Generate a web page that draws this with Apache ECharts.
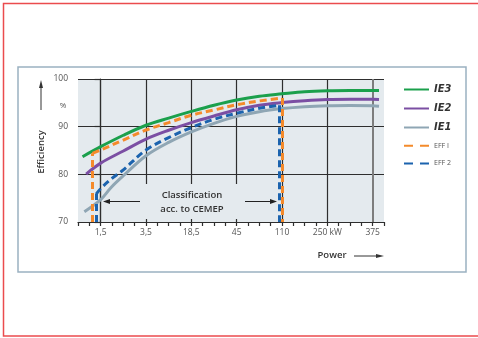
<!DOCTYPE html>
<html>
<head>
<meta charset="utf-8">
<script src="https://cdn.jsdelivr.net/npm/echarts@6/dist/echarts.min.js"></script>
<style>
  html, body { margin: 0; padding: 0; background: #fff; }
  #chart { width: 478px; height: 338px; }
</style>
</head>
<body>
<div id="chart"></div>
<script>
// x is a position index: 0 = 1,5 kW, 1 = 3,5 kW ... 6 = 375 kW (evenly spaced on the sheet)
const xLabels = ['1,5', '3,5', '18,5', '45', '110', '250 kW', '375'];
const yTicks = [70, 80, 90, 100];

const ie3 = [[-0.40, 83.7], [0, 85.8], [0.5, 88.2], [1, 90.3], [1.5, 91.8], [2, 93.2], [2.5, 94.5],
  [3, 95.6], [3.5, 96.4], [4, 96.9], [4.5, 97.35], [5, 97.55], [5.5, 97.6], [6, 97.6], [6.14, 97.6]];
const ie2 = [[-0.32, 80.05], [0, 82.35], [0.5, 84.9], [1, 87.4], [1.5, 89.25], [2, 90.85], [2.5, 92.25],
  [3, 93.55], [3.5, 94.5], [4, 95.05], [4.5, 95.45], [5, 95.7], [5.5, 95.75], [6, 95.75], [6.14, 95.7]];
const ie1 = [[-0.36, 72.15], [0, 74.7], [0.23, 77.25], [0.5, 79.7], [1, 83.9], [1.5, 86.7], [2, 88.9],
  [2.5, 90.7], [3, 92.15], [3.5, 93.15], [4, 93.8], [4.5, 94.2], [5, 94.4], [5.5, 94.45], [6, 94.4], [6.14, 94.3]];
const eff1 = [[-0.18, 84.4], [0, 85.1], [0.5, 87.2], [1, 89.3], [1.5, 90.85], [2, 92.4], [2.5, 93.5],
  [3, 94.6], [3.5, 95.4], [4.0, 96.0]];
const eff2 = [[-0.10, 75.85], [0, 77.0], [0.23, 79.0], [0.5, 80.95], [1, 85.1], [1.5, 87.7], [2, 89.8],
  [2.5, 91.55], [3, 92.8], [3.5, 93.85], [3.94, 94.5]];

const C = {
  ie3: '#1ba04c', ie2: '#7b4fa3', ie1: '#8fa6b4', eff1: '#f48a2b', eff2: '#1b63ae',
  grid: '#2e2e2e', text: '#333', label: '#555', bg: '#e4eaee'
};
const FONT = '"Open Sans", "Noto Sans", sans-serif';

const chart = echarts.init(document.getElementById('chart'), null, { renderer: 'canvas' });

// vertical drops of the EFF curves down to 70 %
function drops(data) {
  const first = data[0], last = data[data.length - 1];
  return [
    [{ coord: [first[0], yTicks[0]] }, { coord: first }],
    [{ coord: last }, { coord: [last[0], yTicks[0]] }]
  ];
}

function curve(name, data, color, dashed) {
  const s = {
    name: name,
    type: 'line',
    data: data,
    smooth: 0.35,
    symbol: 'none',
    z: 3,
    lineStyle: { color: color, width: 3, type: dashed ? [7, 4] : 'solid', cap: 'butt' },
    itemStyle: { color: color }
  };
  if (dashed) {
    s.markLine = {
      silent: true, symbol: ['none', 'none'], label: { show: false }, z: 4,
      lineStyle: { color: color, width: 3, type: [7, 4] },
      emphasis: { disabled: true },
      data: drops(data)
    };
  }
  return s;
}

const option = {
  animation: false,
  grid: {
    left: 78, top: 79, width: 306, height: 143,
    show: true, backgroundColor: C.bg, borderWidth: 0
  },
  xAxis: {
    type: 'value', min: -0.5, max: 6.25, interval: 0.25,
    axisLine: { show: true, onZero: false, lineStyle: { color: C.grid, width: 1.2 } },
    axisTick: { show: true, length: 4, lineStyle: { color: C.grid, width: 1.2 } },
    splitLine: { show: false },
    axisLabel: {
      margin: 6, color: C.label, fontSize: 8.5, fontFamily: FONT,
      formatter: function (v) {
        const i = Math.round(v);
        return Math.abs(v - i) < 1e-6 && i >= 0 && i < xLabels.length ? xLabels[i] : '';
      }
    }
  },
  yAxis: {
    type: 'value', min: yTicks[0], max: yTicks[yTicks.length - 1], interval: 10,
    axisLine: { show: true, lineStyle: { color: C.grid, width: 1.2 } },
    axisTick: { show: true, length: 6, lineStyle: { color: C.grid, width: 1.2 } },
    splitLine: { show: true, lineStyle: { color: C.grid, width: 1.2 } },
    axisLabel: { margin: 10, color: C.label, fontSize: 8.5, fontFamily: FONT }
  },
  legend: {
    orient: 'vertical', left: 398, top: 79,
    itemWidth: 25, itemHeight: 12, itemGap: 8,
    itemStyle: { opacity: 0, borderWidth: 0 },
    data: [
      { name: 'IE3' }, { name: 'IE2' }, { name: 'IE1' },
      { name: 'EFF I', lineStyle: { type: [9, 7] } },
      { name: 'EFF 2', lineStyle: { type: [9, 7] } }
    ],
    formatter: function (n) { return n.indexOf('IE') === 0 ? '{ie|' + n + '}' : '{eff|' + n + '}'; },
    textStyle: {
      rich: {
        ie: { fontFamily: '"Liberation Sans Narrow", "DejaVu Sans Condensed", "Liberation Sans", sans-serif',
          fontStyle: 'italic', fontWeight: 'bold', fontSize: 11, color: '#333' },
        eff: { fontFamily: FONT, fontSize: 7, color: '#555' }
      }
    }
  },
  series: [
    {
      // grid verticals at each labelled power
      name: 'gridlines', type: 'line', data: [], z: 1,
      markLine: {
        silent: true, symbol: ['none', 'none'], label: { show: false }, z: 1,
        emphasis: { disabled: true },
        data: xLabels.map(function (l, i) {
          return {
            xAxis: i,
            lineStyle: i === xLabels.length - 1
              ? { color: '#7d7d7d', width: 2, type: 'solid' }
              : { color: C.grid, width: 1.2, type: 'solid' }
          };
        })
      }
    },
    curve('IE1', ie1, C.ie1, false),
    curve('IE2', ie2, C.ie2, false),
    curve('IE3', ie3, C.ie3, false),
    curve('EFF I', eff1, C.eff1, true),
    curve('EFF 2', eff2, C.eff2, true)
  ],
  graphic: [
    { type: 'rect', z: 0, silent: true, shape: { x: 3.5, y: 3.5, width: 480, height: 332.5 },
      style: { fill: 'none', stroke: '#eb4b4e', lineWidth: 1.5 } },
    { type: 'rect', z: 0, silent: true, shape: { x: 18, y: 67, width: 448, height: 205 },
      style: { fill: 'none', stroke: '#9bb1c1', lineWidth: 1.5 } },
    // label box over the gridlines
    { type: 'rect', z: 50, silent: true, shape: { x: 143, y: 184, width: 100, height: 35 },
      style: { fill: C.bg } },
    { type: 'text', z: 51, x: 192, y: 195, style: { text: 'Classification', fill: C.text,
      font: '600 9.5px ' + FONT, textAlign: 'center', textVerticalAlign: 'middle' } },
    { type: 'text', z: 51, x: 192, y: 209.5, style: { text: 'acc. to CEMEP', fill: C.text,
      font: '600 9.5px ' + FONT, textAlign: 'center', textVerticalAlign: 'middle' } },
    { type: 'line', z: 51, shape: { x1: 140, y1: 201.5, x2: 107, y2: 201.5 },
      style: { stroke: '#222', lineWidth: 1 } },
    { type: 'polygon', z: 51, shape: { points: [[103, 201.5], [110, 199], [110, 204]] }, style: { fill: '#222' } },
    { type: 'line', z: 51, shape: { x1: 245, y1: 201.5, x2: 273, y2: 201.5 },
      style: { stroke: '#222', lineWidth: 1 } },
    { type: 'polygon', z: 51, shape: { points: [[277, 201.5], [270, 199], [270, 204]] }, style: { fill: '#222' } },
    // y axis title
    { type: 'text', x: 41, y: 152, rotation: Math.PI / 2,
      style: { text: 'Efficiency', fill: C.text, font: '600 9.5px ' + FONT,
        textAlign: 'center', textVerticalAlign: 'middle' } },
    { type: 'line', shape: { x1: 41, y1: 110, x2: 41, y2: 86 }, style: { stroke: '#333', lineWidth: 1 } },
    { type: 'polygon', shape: { points: [[41, 80], [39, 88], [43, 88]] }, style: { fill: '#333' } },
    { type: 'text', x: 63, y: 106, style: { text: '%', fill: C.label, font: '8px ' + FONT,
      textAlign: 'center', textVerticalAlign: 'middle' } },
    // x axis title
    { type: 'text', x: 332, y: 255.5, style: { text: 'Power', fill: C.text, font: '600 9.5px ' + FONT,
      textAlign: 'center', textVerticalAlign: 'middle' } },
    { type: 'line', shape: { x1: 354, y1: 256, x2: 377, y2: 256 }, style: { stroke: '#333', lineWidth: 1 } },
    { type: 'polygon', shape: { points: [[384, 256], [376, 254], [376, 258]] }, style: { fill: '#333' } }
  ]
};

chart.setOption(option);
</script>
</body>
</html>
